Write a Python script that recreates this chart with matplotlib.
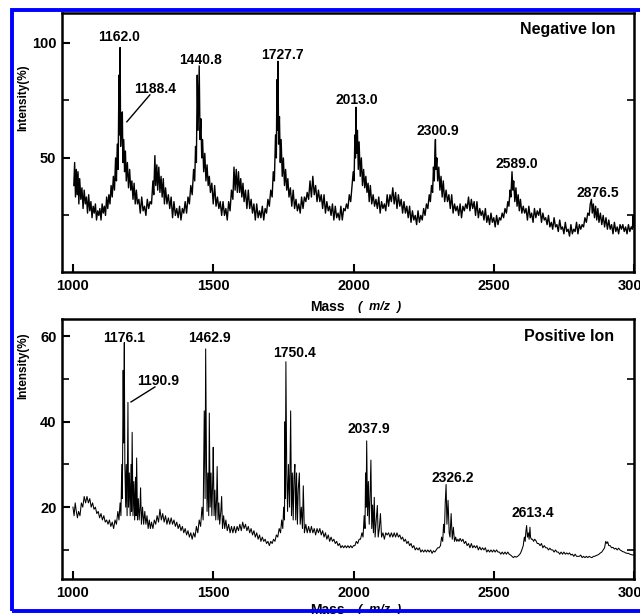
import matplotlib
matplotlib.use("Agg")
import matplotlib.pyplot as plt
from matplotlib.patches import Rectangle

plt.rcParams['font.family'] = ['Liberation Sans', 'DejaVu Sans']
plt.rcParams['font.weight'] = 'bold'

# negative ion spectrum (mass, intensity %)
neg_mass = [1003, 1006, 1009, 1012, 1015, 1018, 1021, 1024, 1028, 1032, 1036, 1040, 1044, 1048, 1052, 1056,
            1060, 1064, 1068, 1072, 1076, 1080, 1084, 1088, 1092, 1096, 1100, 1104, 1108, 1112, 1116, 1120,
            1124, 1128, 1132, 1136, 1140, 1144, 1148, 1152, 1155, 1158, 1161, 1164, 1166, 1168, 1170, 1173,
            1176, 1178, 1181, 1184, 1187, 1190, 1194, 1198, 1202, 1206, 1210, 1214, 1218, 1222, 1226, 1230,
            1235, 1240, 1245, 1250, 1255, 1260, 1265, 1270, 1275, 1280, 1285, 1288, 1292, 1295, 1299, 1302,
            1306, 1310, 1314, 1318, 1322, 1326, 1330, 1335, 1340, 1345, 1350, 1355, 1360, 1365, 1370, 1375,
            1380, 1385, 1390, 1395, 1400, 1405, 1410, 1415, 1420, 1425, 1430, 1434, 1437, 1440, 1443, 1446,
            1450, 1453, 1456, 1459, 1462, 1466, 1470, 1474, 1478, 1482, 1486, 1490, 1495, 1500, 1505, 1510,
            1515, 1520, 1525, 1530, 1535, 1540, 1545, 1550, 1555, 1560, 1565, 1570, 1574, 1578, 1582, 1586,
            1590, 1594, 1598, 1602, 1606, 1610, 1615, 1620, 1625, 1630, 1635, 1640, 1645, 1650, 1655, 1660,
            1665, 1670, 1675, 1680, 1685, 1690, 1695, 1700, 1705, 1710, 1714, 1718, 1722, 1725, 1727, 1729,
            1731, 1733, 1736, 1739, 1742, 1746, 1750, 1754, 1758, 1762, 1766, 1770, 1775, 1780, 1785, 1790,
            1795, 1800, 1805, 1810, 1815, 1820, 1825, 1830, 1835, 1840, 1845, 1850, 1855, 1860, 1865, 1870,
            1875, 1880, 1885, 1890, 1895, 1900, 1905, 1910, 1915, 1920, 1925, 1930, 1935, 1940, 1945, 1950,
            1955, 1960, 1965, 1970, 1975, 1980, 1985, 1990, 1995, 1999, 2002, 2005, 2007, 2009, 2011, 2014,
            2017, 2020, 2024, 2028, 2032, 2036, 2040, 2044, 2048, 2052, 2056, 2060, 2065, 2070, 2075, 2080,
            2085, 2090, 2095, 2100, 2105, 2110, 2115, 2120, 2125, 2130, 2135, 2140, 2145, 2150, 2155, 2160,
            2165, 2170, 2175, 2180, 2185, 2190, 2195, 2200, 2205, 2210, 2215, 2220, 2225, 2230, 2235, 2240,
            2245, 2250, 2255, 2260, 2265, 2270, 2274, 2278, 2282, 2285, 2288, 2290, 2292, 2294, 2297, 2300,
            2304, 2308, 2312, 2316, 2320, 2325, 2330, 2335, 2340, 2345, 2350, 2355, 2360, 2365, 2370, 2375,
            2380, 2385, 2390, 2395, 2400, 2405, 2410, 2415, 2420, 2425, 2430, 2435, 2440, 2445, 2450, 2455,
            2460, 2465, 2470, 2475, 2480, 2485, 2490, 2495, 2500, 2505, 2510, 2515, 2520, 2525, 2530, 2535,
            2540, 2545, 2550, 2554, 2558, 2561, 2565, 2568, 2571, 2575, 2579, 2583, 2587, 2591, 2595, 2600,
            2605, 2610, 2615, 2620, 2625, 2630, 2635, 2640, 2645, 2650, 2655, 2660, 2665, 2670, 2675, 2680,
            2685, 2690, 2695, 2700, 2705, 2710, 2715, 2720, 2725, 2730, 2735, 2740, 2745, 2750, 2755, 2760,
            2765, 2770, 2775, 2780, 2785, 2790, 2795, 2800, 2805, 2810, 2815, 2820, 2825, 2830, 2835, 2840,
            2844, 2848, 2851, 2855, 2859, 2863, 2867, 2871, 2875, 2880, 2885, 2890, 2895, 2900, 2905, 2910,
            2915, 2920, 2925, 2930, 2935, 2940, 2945, 2950, 2955, 2960, 2965, 2970, 2975, 2980, 2985, 2990,
            2994, 2997, 2999]
neg_int = [38, 48, 33, 45, 34, 44, 30, 41, 32, 37, 28, 36, 30, 33, 26, 34,
           27, 31, 24, 29, 26, 30, 23, 27, 25, 28, 23, 30, 26, 29, 25, 33,
           28, 34, 30, 38, 33, 42, 36, 50, 40, 56, 45, 86, 60, 98, 55, 66,
           70, 48, 58, 44, 53, 40, 48, 37, 45, 36, 40, 32, 39, 30, 36, 30,
           32, 26, 33, 27, 29, 25, 32, 28, 31, 30, 40, 34, 51, 38, 47, 36,
           46, 35, 42, 33, 41, 30, 37, 30, 34, 28, 33, 24, 31, 25, 28, 24,
           29, 23, 28, 26, 31, 26, 33, 30, 38, 34, 45, 40, 55, 48, 86, 62,
           90, 58, 67, 50, 58, 44, 52, 40, 47, 38, 42, 35, 39, 30, 38, 29,
           33, 28, 31, 25, 31, 25, 28, 23, 31, 27, 36, 32, 46, 36, 45, 35,
           44, 35, 41, 33, 39, 31, 36, 28, 36, 28, 32, 26, 30, 23, 30, 24,
           27, 24, 29, 23, 28, 26, 32, 29, 36, 33, 44, 40, 60, 50, 84, 62,
           92, 56, 68, 48, 58, 42, 50, 38, 45, 36, 41, 33, 37, 29, 36, 28,
           32, 27, 30, 26, 33, 28, 33, 31, 35, 32, 40, 33, 42, 34, 38, 31,
           36, 31, 34, 28, 34, 26, 31, 27, 29, 25, 30, 23, 29, 24, 26, 23,
           29, 23, 28, 27, 30, 28, 34, 31, 38, 44, 40, 60, 50, 72, 52, 62,
           45, 57, 42, 50, 38, 45, 37, 42, 35, 39, 31, 38, 30, 34, 29, 32,
           28, 33, 26, 31, 28, 30, 27, 34, 29, 34, 31, 37, 30, 35, 28, 34,
           29, 32, 26, 31, 26, 29, 24, 29, 22, 27, 23, 25, 21, 27, 22, 25,
           23, 28, 25, 30, 28, 34, 31, 38, 35, 46, 40, 52, 58, 45, 50, 40,
           46, 36, 42, 33, 40, 31, 36, 31, 34, 28, 34, 26, 30, 27, 29, 25,
           30, 24, 29, 27, 30, 28, 33, 27, 32, 28, 31, 25, 31, 24, 28, 25,
           27, 23, 28, 22, 25, 21, 26, 22, 24, 20, 25, 21, 24, 23, 26, 24,
           28, 26, 31, 29, 36, 33, 44, 36, 40, 31, 37, 29, 34, 27, 32, 26,
           29, 26, 28, 23, 29, 24, 26, 22, 28, 24, 27, 25, 28, 22, 26, 23,
           24, 21, 25, 20, 22, 19, 24, 20, 21, 18, 23, 19, 20, 17, 22, 18,
           19, 16, 21, 17, 19, 18, 22, 17, 21, 19, 21, 20, 24, 22, 26, 25,
           30, 32, 26, 30, 24, 29, 23, 28, 22, 26, 21, 25, 20, 24, 19, 23,
           19, 21, 17, 22, 18, 20, 17, 21, 19, 21, 18, 20, 17, 21, 18, 20,
           19, 25, 20]

# positive ion spectrum
pos_mass = [1000, 1004, 1008, 1012, 1016, 1020, 1025, 1030, 1035, 1040, 1045, 1050, 1055, 1060, 1065, 1070,
            1075, 1080, 1085, 1090, 1095, 1100, 1105, 1110, 1115, 1120, 1125, 1130, 1135, 1140, 1145, 1150,
            1155, 1160, 1164, 1168, 1171, 1174, 1176, 1179, 1181, 1183, 1185, 1188, 1190, 1193, 1196, 1198,
            1201, 1204, 1207, 1209, 1211, 1214, 1217, 1220, 1223, 1225, 1227, 1230, 1233, 1236, 1239, 1241,
            1244, 1248, 1252, 1256, 1260, 1264, 1268, 1272, 1276, 1280, 1285, 1290, 1295, 1300, 1305, 1310,
            1315, 1320, 1325, 1330, 1335, 1340, 1345, 1350, 1355, 1360, 1365, 1370, 1375, 1380, 1385, 1390,
            1395, 1400, 1405, 1410, 1415, 1420, 1425, 1430, 1435, 1440, 1445, 1450, 1455, 1460, 1464, 1468,
            1471, 1473, 1476, 1478, 1481, 1484, 1486, 1489, 1492, 1495, 1498, 1500, 1503, 1506, 1509, 1512,
            1514, 1517, 1520, 1523, 1527, 1530, 1533, 1537, 1541, 1545, 1550, 1555, 1560, 1565, 1570, 1575,
            1580, 1585, 1590, 1595, 1600, 1605, 1610, 1615, 1620, 1625, 1630, 1635, 1640, 1645, 1650, 1655,
            1660, 1665, 1670, 1675, 1680, 1685, 1690, 1695, 1700, 1705, 1710, 1715, 1720, 1725, 1730, 1735,
            1740, 1744, 1748, 1751, 1754, 1756, 1757, 1759, 1762, 1765, 1768, 1772, 1776, 1779, 1782, 1785,
            1788, 1791, 1794, 1797, 1800, 1803, 1807, 1810, 1814, 1818, 1821, 1825, 1830, 1835, 1840, 1845,
            1850, 1855, 1860, 1865, 1870, 1875, 1880, 1885, 1890, 1895, 1900, 1905, 1910, 1915, 1920, 1925,
            1930, 1935, 1940, 1945, 1950, 1955, 1960, 1965, 1970, 1975, 1980, 1985, 1990, 1995, 2000, 2005,
            2010, 2015, 2020, 2025, 2030, 2034, 2038, 2041, 2043, 2045, 2047, 2050, 2053, 2056, 2059, 2062,
            2065, 2068, 2071, 2074, 2077, 2081, 2085, 2088, 2092, 2096, 2100, 2105, 2110, 2115, 2120, 2125,
            2130, 2135, 2140, 2145, 2150, 2155, 2160, 2165, 2170, 2175, 2180, 2185, 2190, 2195, 2200, 2205,
            2210, 2215, 2220, 2225, 2230, 2235, 2240, 2245, 2250, 2255, 2260, 2265, 2270, 2275, 2280, 2285,
            2290, 2295, 2300, 2305, 2310, 2314, 2318, 2321, 2324, 2327, 2330, 2333, 2337, 2341, 2344, 2348,
            2352, 2356, 2360, 2364, 2368, 2372, 2376, 2380, 2385, 2390, 2395, 2400, 2405, 2410, 2415, 2420,
            2425, 2430, 2435, 2440, 2445, 2450, 2455, 2460, 2465, 2470, 2475, 2480, 2485, 2490, 2495, 2500,
            2505, 2510, 2515, 2520, 2525, 2530, 2535, 2540, 2545, 2550, 2555, 2560, 2565, 2570, 2575, 2580,
            2585, 2590, 2595, 2600, 2605, 2609, 2612, 2614, 2617, 2620, 2623, 2626, 2629, 2631, 2634, 2638,
            2642, 2646, 2650, 2655, 2660, 2665, 2670, 2675, 2680, 2685, 2690, 2695, 2700, 2705, 2710, 2715,
            2720, 2725, 2730, 2735, 2740, 2745, 2750, 2755, 2760, 2765, 2770, 2775, 2780, 2785, 2790, 2795,
            2800, 2805, 2810, 2815, 2820, 2825, 2830, 2835, 2840, 2845, 2850, 2855, 2860, 2865, 2870, 2875,
            2880, 2885, 2890, 2895, 2899, 2903, 2906, 2910, 2915, 2920, 2925, 2930, 2935, 2940, 2945, 2950,
            2955, 2960, 2965, 2970, 2975, 2980, 2985, 2990, 2995, 2999]
pos_int = [20, 18, 21, 19, 17.5, 19, 18, 21, 20, 22.5, 21, 22.5, 21, 22, 20, 21,
           19.5, 20, 18.5, 19, 17.5, 18.5, 17, 18, 16.5, 17, 16, 17, 15.5, 16.5, 15, 17,
           16, 19, 17, 21, 18, 30, 22, 52, 35, 58.5, 30, 20, 30, 18, 44.5, 20,
           28, 18, 30, 19, 37.5, 18, 26, 17, 27, 18, 31.5, 17, 22, 17, 20, 24.5,
           16, 20, 16, 19, 16, 18, 15, 17, 15, 16.5, 15, 17, 16, 18, 16.5, 19.5,
           17, 18.5, 16.5, 18, 16, 17.5, 16, 17.5, 16, 17, 15.5, 16.5, 15, 16, 14.5, 15.5,
           14, 15, 13.5, 14.5, 13, 14, 12.5, 14, 13, 15.5, 14, 17, 15.5, 20, 17, 42.5,
           22, 57, 30, 19, 28, 18, 42, 20, 28, 18, 26, 34, 18, 24, 17, 22,
           29.5, 17, 21, 16, 19, 22.5, 15, 18, 15, 17, 14.5, 16, 14, 15.5, 14, 15.5,
           14, 15.5, 14.5, 16, 14.5, 16.5, 15, 16, 14.5, 15.5, 14, 15, 13.5, 14.5, 13, 14,
           12.5, 13.5, 12, 13, 12, 12.5, 11.5, 12, 11, 12, 11.5, 12.5, 12, 13.5, 13, 15,
           14, 17, 15, 20, 17, 40, 22, 54, 28, 19, 30, 20, 42.5, 18, 28, 17,
           27, 30, 17, 28, 16, 24, 28, 16, 20, 15, 25, 14, 16, 14, 15.5, 14,
           15.5, 14, 15, 13.5, 15, 14, 15, 13.5, 14.5, 13, 14, 12.5, 13.5, 12, 13, 12,
           12.5, 11.5, 12, 11, 11.5, 10.5, 11, 10.5, 11, 10.5, 11, 10.5, 11, 10.5, 11, 11,
           12, 11.5, 12.5, 12.5, 14, 13, 18, 15, 28, 20, 35.5, 18, 26, 16, 22.5, 31,
           15, 20.5, 14, 22.3, 13, 17, 20.4, 13, 15, 18.5, 13, 14, 12.5, 14, 13.5, 14,
           13, 14, 13, 14, 13, 14, 13, 13.5, 12.5, 13, 12, 12.5, 11.5, 12, 11, 11.5,
           10.5, 11, 10, 10.5, 10, 10.5, 9.5, 10, 9.5, 10, 9.5, 10, 9.5, 10, 9.2, 9.8,
           9.5, 10, 10.5, 10.5, 11, 13, 12, 16, 14, 21, 25.3, 16, 21.6, 14, 13, 18.5,
           12.5, 15.3, 12, 13, 12, 12.5, 12, 12.7, 12, 12.5, 11.5, 12, 11, 11.5, 10.5, 11.5,
           10.5, 11, 10.5, 11, 10, 10.7, 10, 10.5, 10, 10.5, 9.5, 10, 9.5, 10, 9.5, 10,
           9.5, 10, 9.5, 9.5, 9, 9.5, 9, 9.5, 9, 9.5, 9, 8.8, 8.5, 8.2, 8.5, 8.3,
           8.5, 8.8, 9.2, 10, 11, 13, 12, 14, 15.7, 13, 14, 12.5, 15.3, 13, 12.5, 12.5,
           12, 12.5, 12.2, 11.5, 11.5, 11, 11.5, 10.5, 11, 10.5, 10.5, 10, 10.4, 10, 10, 9.5,
           10, 9.5, 9.5, 9, 9.5, 9, 9.5, 9, 9.3, 9, 9.3, 8.8, 9, 8.5, 9, 8.5,
           8.5, 8.5, 8.8, 8.2, 8.5, 8.2, 8.5, 8.2, 8.5, 8.3, 8.2, 8.5, 8.5, 8.7, 8.8, 9,
           9.3, 9.5, 10, 10.5, 12, 11.5, 11.9, 11, 11, 10.5, 10.6, 10.2, 10.4, 10, 10.4, 10,
           9.8, 9.6, 9.5, 9.3, 9.2, 9.2, 9.0, 8.9, 8.8, 8.9]

neg_labels = ['1162.0', '1188.4', '1440.8', '1727.7', '2013.0', '2300.9', '2589.0', '2876.5']
neg_label_x = [1164, 1292, 1456, 1745, 2012, 2299, 2581, 2872]
neg_label_y = [102.6, 80.0, 92.6, 94.8, 75.2, 61.7, 47.4, 34.8]

pos_labels = ['1176.1', '1190.9', '1462.9', '1750.4', '2037.9', '2326.2', '2613.4']
pos_label_x = [1182, 1303, 1485, 1788, 2055, 2353, 2638]
pos_label_y = [59.5, 49.5, 59.5, 56.0, 38.2, 26.8, 18.6]

fig = plt.figure(figsize=(6.4, 6.14), dpi=100)
ax1 = fig.add_axes([0.0969, 0.557, 0.8938, 0.4218])
ax2 = fig.add_axes([0.0969, 0.057, 0.8938, 0.4235])

ax1.plot(neg_mass, neg_int, color='black', lw=1.0)
ax2.plot(pos_mass, pos_int, color='black', lw=0.75)

ax1.set_xlim(961, 3000)
ax2.set_xlim(961, 3000)
ax1.set_ylim(0.4, 113)
ax2.set_ylim(3.2, 64)
ax1.set_yticks([50, 100])
ax1.set_yticks([25, 75], minor=True)
ax2.set_yticks([20, 40, 60])
ax2.set_yticks([10, 30, 50], minor=True)

for ax in (ax1, ax2):
    ax.set_xticks([1000, 1500, 2000, 2500, 3000])
    ax.set_xticklabels(['1000', '1500', '2000', '2500', '3000'])
    for s in ax.spines.values():
        s.set_linewidth(1.8)
    ax.tick_params(axis='both', which='major', direction='in', length=6, width=1.5,
                   labelsize=10.5, pad=4)
    ax.tick_params(axis='y', which='minor', direction='in', length=5, width=1.2,
                   left=True, right=True)
    ax.tick_params(axis='x', pad=5)
    for lab in ax.get_xticklabels() + ax.get_yticklabels():
        lab.set_fontweight('bold')

for t, x, y in zip(neg_labels, neg_label_x, neg_label_y):
    ax1.text(x, y, t, ha='center', va='center', fontsize=10, fontweight='bold')
for t, x, y in zip(pos_labels, pos_label_x, pos_label_y):
    ax2.text(x, y, t, ha='center', va='center', fontsize=10, fontweight='bold')

# leader lines for the shoulder peaks
ax1.plot([1274, 1192], [77.4, 65.7], color='black', lw=1.0)
ax2.plot([1292, 1207], [48.1, 44.6], color='black', lw=1.0)

ax1.text(2765, 105.7, 'Negative Ion', ha='center', va='center', fontsize=11.5, fontweight='bold')
ax2.text(2768, 59.8, 'Positive Ion', ha='center', va='center', fontsize=11.5, fontweight='bold')

# axis titles, placed like in the scan
for yc in (1 - 98 / 614, 1 - 366 / 614):
    fig.text(23 / 640, yc, 'Intensity(%)', rotation=90, ha='center', va='center',
             fontsize=8.5, fontweight='bold')
for yc in (1 - 307 / 614, 1 - 610 / 614):
    fig.text(327 / 640, yc, 'Mass', ha='center', va='center', fontsize=10, fontweight='bold')
    fig.text(380 / 640, yc, '(  m/z  )', ha='center', va='center', fontsize=9,
             fontweight='bold', style='italic')

fig.add_artist(Rectangle((12 / 640, 1 - 610.5 / 614), 1.0, (610.5 - 10) / 614,
                         transform=fig.transFigure, fill=False, edgecolor='#0000ff',
                         lw=2.8, zorder=10))

fig.savefig('out.png', dpi=100)
